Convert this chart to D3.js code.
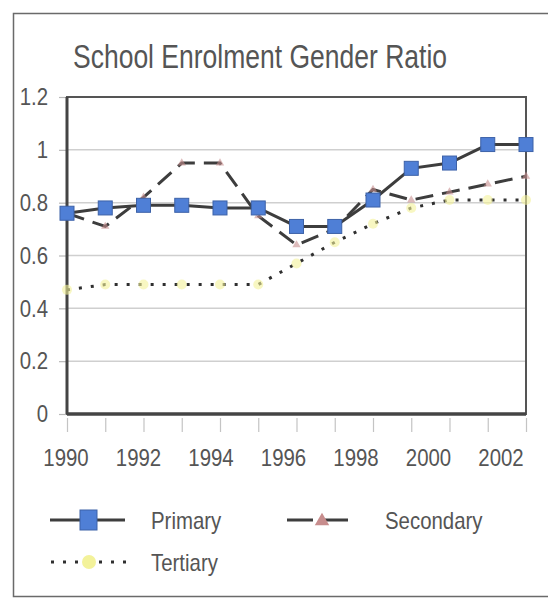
<!DOCTYPE html>
<html>
<head>
<meta charset="utf-8">
<script src="https://cdn.jsdelivr.net/npm/d3@7"></script>
<style>
  body { margin: 0; background: #ffffff; }
  svg { display: block; }
</style>
</head>
<body>
<div id="chart"></div>
<script>

//--------------------------------------
// DATA
//--------------------------------------

var years = [1990, 1991, 1992, 1993, 1994, 1995, 1996, 1997, 1998, 1999, 2000, 2001, 2002];
var primary = [0.76, 0.78, 0.79, 0.79, 0.78, 0.78, 0.71, 0.71, 0.81, 0.93, 0.95, 1.02, 1.02];
var secondary = [0.76, 0.71, 0.82, 0.95, 0.95, 0.75, 0.64, 0.70, 0.85, 0.81, 0.84, 0.87, 0.90];
var tertiary = [0.47, 0.49, 0.49, 0.49, 0.49, 0.49, 0.57, 0.65, 0.72, 0.78, 0.81, 0.81, 0.81];
var yTicks = [0, 0.2, 0.4, 0.6, 0.8, 1, 1.2];
var xTicks = [1990, 1992, 1994, 1996, 1998, 2000, 2002];
var seriesNames = ["Primary", "Secondary", "Tertiary"];

var fontFamily = "'Liberation Sans', Arial, sans-serif";
var textColor = "#555555";
var lineColor = "#3d3d3d";


//--------------------------------------
// SVG + FRAME
//--------------------------------------

var W = 548, H = 599;
var svg = d3.select("#chart").append("svg")
  .attr("width", W)
  .attr("height", H);

// outer frame (right edge runs off the picture)
svg.append("rect")
  .attr("x", 13.5)
  .attr("y", 13.5)
  .attr("width", 560)
  .attr("height", 583)
  .attr("fill", "none")
  .attr("stroke", "#6a6a6a")
  .attr("stroke-width", 1.5);

svg.append("text")
  .attr("x", 73)
  .attr("y", 68)
  .attr("font-family", fontFamily)
  .attr("font-size", 33)
  .attr("textLength", 374)
  .attr("lengthAdjust", "spacingAndGlyphs")
  .attr("fill", textColor)
  .text("School Enrolment Gender Ratio");


//--------------------------------------
// SCALES + AXES
//--------------------------------------

var plot = { left: 67, right: 526, top: 97, bottom: 414 };

var x = d3.scaleLinear().domain([1990, 2002]).range([plot.left, plot.right]);
var y = d3.scaleLinear().domain([0, 1.2]).range([plot.bottom, plot.top]);

// the year labels sit a little tighter than the ticks in the original
var xLabel = d3.scaleLinear().domain([1990, 2002]).range([66, 501]);

// gridlines
svg.append("g")
  .selectAll("line")
  .data(yTicks.slice(1, -1))
  .join("line")
  .attr("x1", plot.left)
  .attr("x2", plot.right)
  .attr("y1", function (d) { return y(d); })
  .attr("y2", function (d) { return y(d); })
  .attr("stroke", "#cfcfcf")
  .attr("stroke-width", 1.5);

var yAxis = svg.append("g")
  .attr("transform", "translate(" + plot.left + ",0)")
  .call(d3.axisLeft(y).tickValues(yTicks).tickSize(8).tickPadding(11)
    .tickFormat(function (d) { return d === 0 || d === 1 ? d3.format("d")(d) : d3.format(".1f")(d); }));

yAxis.select(".domain").remove();
yAxis.selectAll(".tick line").attr("stroke", "#b8b8b8").attr("stroke-width", 1.2);
yAxis.selectAll(".tick text")
  .attr("class", "narrow")
  .attr("font-family", fontFamily)
  .attr("font-size", 24)
  .attr("fill", textColor);

var xAxis = svg.append("g")
  .attr("transform", "translate(0," + plot.bottom + ")")
  .call(d3.axisBottom(x).tickValues(years).tickSize(18).tickFormat(""));

xAxis.select(".domain").remove();
xAxis.selectAll(".tick line").attr("stroke", "#c4c4c4").attr("stroke-width", 1.2)
  .attr("y1", 4);

svg.append("g")
  .selectAll("text")
  .data(xTicks)
  .join("text")
  .attr("class", "narrow")
  .attr("x", function (d) { return xLabel(d); })
  .attr("y", 466)
  .attr("text-anchor", "middle")
  .attr("font-family", fontFamily)
  .attr("font-size", 24)
  .attr("fill", textColor)
  .text(function (d) { return d; });

// plot area border
svg.append("rect")
  .attr("x", plot.left)
  .attr("y", plot.top)
  .attr("width", plot.right - plot.left)
  .attr("height", plot.bottom - plot.top)
  .attr("fill", "none")
  .attr("stroke", "#555555")
  .attr("stroke-width", 2);

svg.append("line")
  .attr("x1", plot.left).attr("x2", plot.right)
  .attr("y1", plot.bottom).attr("y2", plot.bottom)
  .attr("stroke", "#444444")
  .attr("stroke-width", 3.5);

svg.append("line")
  .attr("x1", plot.left).attr("x2", plot.left)
  .attr("y1", plot.top).attr("y2", plot.bottom)
  .attr("stroke", "#444444")
  .attr("stroke-width", 3);


//--------------------------------------
// SERIES
//--------------------------------------

var line = d3.line()
  .x(function (d, i) { return x(years[i]); })
  .y(function (d) { return y(d); });

svg.append("path")
  .datum(tertiary)
  .attr("d", line)
  .attr("fill", "none")
  .attr("stroke", "#2f2f2f")
  .attr("stroke-width", 3)
  .attr("stroke-dasharray", "3,9");

svg.append("g")
  .selectAll("circle")
  .data(tertiary)
  .join("circle")
  .attr("cx", function (d, i) { return x(years[i]); })
  .attr("cy", function (d) { return y(d); })
  .attr("r", 5)
  .attr("fill", "#f3f29a")
  .attr("opacity", 0.6);

svg.append("path")
  .datum(secondary)
  .attr("d", line)
  .attr("fill", "none")
  .attr("stroke", lineColor)
  .attr("stroke-width", 3)
  .attr("stroke-dasharray", "18,9");

svg.append("g")
  .selectAll("path")
  .data(secondary)
  .join("path")
  .attr("transform", function (d, i) { return "translate(" + x(years[i]) + "," + y(d) + ")"; })
  .attr("d", d3.symbol().type(d3.symbolTriangle).size(30))
  .attr("fill", "#c78d8d")
  .attr("opacity", 0.6);

svg.append("path")
  .datum(primary)
  .attr("d", line)
  .attr("fill", "none")
  .attr("stroke", lineColor)
  .attr("stroke-width", 3);

svg.append("g")
  .selectAll("rect")
  .data(primary)
  .join("rect")
  .attr("x", function (d, i) { return x(years[i]) - 7; })
  .attr("y", function (d) { return y(d) - 7; })
  .attr("width", 14)
  .attr("height", 14)
  .attr("fill", "#4f7fd6")
  .attr("stroke", "#3d62a8")
  .attr("stroke-width", 1);


//--------------------------------------
// LEGEND
//--------------------------------------

var legend = svg.append("g");

// Primary
legend.append("line")
  .attr("x1", 50).attr("x2", 125).attr("y1", 520).attr("y2", 520)
  .attr("stroke", lineColor).attr("stroke-width", 3);
legend.append("rect")
  .attr("x", 80).attr("y", 510).attr("width", 17).attr("height", 20)
  .attr("fill", "#4f7fd6").attr("stroke", "#3d62a8");
legend.append("text")
  .attr("class", "narrow")
  .attr("x", 151).attr("y", 529)
  .attr("font-family", fontFamily).attr("font-size", 24).attr("fill", textColor)
  .text(seriesNames[0]);

// Secondary
legend.append("line")
  .attr("x1", 287).attr("x2", 348).attr("y1", 520).attr("y2", 520)
  .attr("stroke", lineColor).attr("stroke-width", 3)
  .attr("stroke-dasharray", "26,9");
legend.append("path")
  .attr("transform", "translate(322,521)")
  .attr("d", d3.symbol().type(d3.symbolTriangle).size(90))
  .attr("fill", "#c78d8d");
legend.append("text")
  .attr("class", "narrow")
  .attr("x", 385).attr("y", 529)
  .attr("font-family", fontFamily).attr("font-size", 24).attr("fill", textColor)
  .text(seriesNames[1]);

// Tertiary
legend.append("line")
  .attr("x1", 51).attr("x2", 127).attr("y1", 562).attr("y2", 562)
  .attr("stroke", "#2f2f2f").attr("stroke-width", 3)
  .attr("stroke-dasharray", "3,9");
legend.append("circle")
  .attr("cx", 89).attr("cy", 562).attr("r", 7)
  .attr("fill", "#f3f29a");
legend.append("text")
  .attr("class", "narrow")
  .attr("x", 151).attr("y", 571)
  .attr("font-family", fontFamily).attr("font-size", 24).attr("fill", textColor)
  .text(seriesNames[2]);


//--------------------------------------
// NARROW TEXT (the original uses a condensed face)
//--------------------------------------

svg.selectAll("text.narrow").each(function () {
  var len = this.getComputedTextLength();
  d3.select(this)
    .attr("textLength", len * 0.85)
    .attr("lengthAdjust", "spacingAndGlyphs");
});

</script>
</body>
</html>
